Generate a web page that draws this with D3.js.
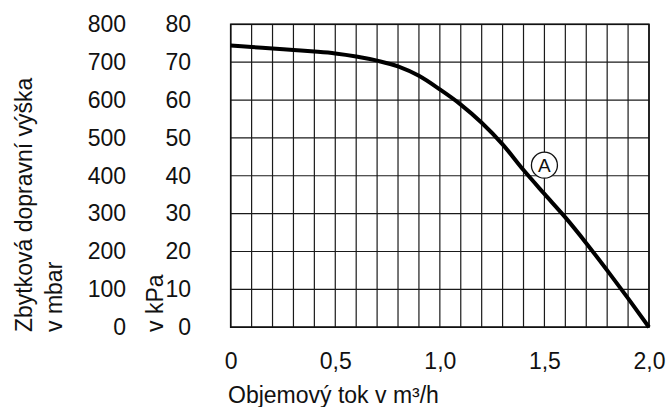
<!DOCTYPE html>
<html>
<head>
<meta charset="utf-8">
<script src="https://cdn.jsdelivr.net/npm/d3@7"></script>
<style>
  body { margin: 0; background: #fff; }
  svg { display: block; font-family: "Liberation Sans", Arial, sans-serif; }
  .tick text { font-size: 23px; fill: #111; }
</style>
</head>
<body>
<svg id="chart" width="667" height="407"></svg>
<script>
// pump curve
var flow = [0, 0.1, 0.2, 0.3, 0.4, 0.5, 0.6, 0.7, 0.8, 0.9, 1.0, 1.1, 1.2, 1.3, 1.4, 1.5, 1.6, 1.7, 1.8, 1.9, 2.0];
var headKPa = [74.4, 74.0, 73.6, 73.2, 72.8, 72.3, 71.5, 70.4, 68.9, 66.4, 62.8, 58.8, 54.0, 48.3, 41.5, 35.2, 29.0, 22.2, 15.0, 7.6, 0];

var xTicks = [0, 0.5, 1.0, 1.5, 2.0];
var kPaTicks = [0, 10, 20, 30, 40, 50, 60, 70, 80];
var mbarTicks = [0, 100, 200, 300, 400, 500, 600, 700, 800];

// label "A" on the curve
var markerA = { flow: 1.5, kPa: 42.8, text: "A" };

var svg = d3.select("#chart");
var plotLeft = 230.7, plotRight = 649, plotTop = 24.3, plotBottom = 327.2;

var xScale = d3.scaleLinear().domain([0, 2]).range([plotLeft, plotRight]);
var yScale = d3.scaleLinear().domain([0, 80]).range([plotBottom, plotTop]);
var yMbar = d3.scaleLinear().domain([0, 800]).range([plotBottom, plotTop]);

var fmt = function(d) { return d === 0 ? "0" : d3.format(".1f")(d).replace(".", ","); };

// grid
var grid = svg.append("g");
grid.selectAll("line.v")
    .data(d3.range(0, 21).map(function(i) { return i / 10; }))
    .enter().append("line")
    .attr("x1", function(d) { return xScale(d); })
    .attr("x2", function(d) { return xScale(d); })
    .attr("y1", plotTop).attr("y2", plotBottom)
    .attr("stroke", "#1a1a1a").attr("stroke-width", 1.2);
grid.selectAll("line.h")
    .data(kPaTicks)
    .enter().append("line")
    .attr("x1", plotLeft).attr("x2", plotRight)
    .attr("y1", function(d) { return yScale(d); })
    .attr("y2", function(d) { return yScale(d); })
    .attr("stroke", "#1a1a1a").attr("stroke-width", 1.2);
svg.append("rect")
    .attr("x", plotLeft).attr("y", plotTop)
    .attr("width", plotRight - plotLeft).attr("height", plotBottom - plotTop)
    .attr("fill", "none").attr("stroke", "#111").attr("stroke-width", 1.6);

// axes (labels only)
var xAxis = svg.append("g")
    .attr("transform", "translate(0," + (plotBottom + 22) + ")")
    .call(d3.axisBottom(xScale).tickValues(xTicks).tickSize(0).tickFormat(fmt));
xAxis.select(".domain").remove();
xAxis.selectAll("text").attr("dy", "0.71em");

var kAxis = svg.append("g")
    .attr("transform", "translate(191,0)")
    .call(d3.axisLeft(yScale).tickValues(kPaTicks).tickSize(0).tickPadding(0));
kAxis.select(".domain").remove();

var mAxis = svg.append("g")
    .attr("transform", "translate(126,0)")
    .call(d3.axisLeft(yMbar).tickValues(mbarTicks).tickSize(0).tickPadding(0));
mAxis.select(".domain").remove();

// axis titles
svg.append("text")
    .attr("transform", "translate(32,332) rotate(-90)")
    .attr("font-size", 23).attr("fill", "#111")
    .text("Zbytková dopravní výška");
svg.append("text")
    .attr("transform", "translate(62,332) rotate(-90)")
    .attr("font-size", 23).attr("fill", "#111")
    .text("v mbar");
svg.append("text")
    .attr("transform", "translate(163,332) rotate(-90)")
    .attr("font-size", 23).attr("fill", "#111")
    .text("v kPa");
svg.append("text")
    .attr("x", 228).attr("y", 403)
    .attr("font-size", 23).attr("fill", "#111")
    .text("Objemový tok v m³/h");

// curve
var line = d3.line()
    .x(function(d, i) { return xScale(flow[i]); })
    .y(function(d) { return yScale(d); })
    .curve(d3.curveMonotoneX);
svg.append("path")
    .datum(headKPa)
    .attr("d", line)
    .attr("fill", "none")
    .attr("stroke", "#000")
    .attr("stroke-width", 4)
    .attr("stroke-linejoin", "round");

// marker A
var mx = xScale(markerA.flow), my = yScale(markerA.kPa);
svg.append("circle")
    .attr("cx", mx).attr("cy", my).attr("r", 13)
    .attr("fill", "#fff").attr("stroke", "#111").attr("stroke-width", 1.3);
svg.append("text")
    .attr("x", mx).attr("y", my)
    .attr("text-anchor", "middle").attr("dy", "0.36em")
    .attr("font-size", 19).attr("fill", "#111")
    .text(markerA.text);
</script>
</body>
</html>
